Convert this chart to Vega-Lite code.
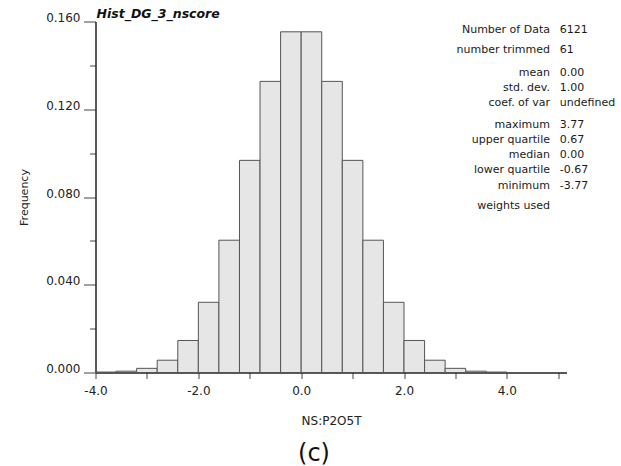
{
  "$schema": "https://vega.github.io/schema/vega-lite/v6.json",
  "width": 471,
  "height": 351,
  "autosize": {"type": "none"},
  "padding": {"left": 95.5, "top": 21.5, "right": 54.5, "bottom": 93.5},
  "background": "white",
  "config": {"view": {"stroke": null}, "font": "DejaVu Sans"},
  "title": {
    "text": "Hist_DG_3_nscore",
    "anchor": "start",
    "frame": "group",
    "font": "DejaVu Sans",
    "fontSize": 12.5,
    "fontStyle": "italic",
    "fontWeight": "bold",
    "color": "#111111",
    "baseline": "alphabetic",
    "offset": -19,
    "dx": 1
  },
  "datasets": {
    "bins": [
      {"bin_start": -4.0, "bin_end": -3.6, "frequency": 0.0002},
      {"bin_start": -3.6, "bin_end": -3.2, "frequency": 0.0006},
      {"bin_start": -3.2, "bin_end": -2.8, "frequency": 0.0019},
      {"bin_start": -2.8, "bin_end": -2.4, "frequency": 0.0056},
      {"bin_start": -2.4, "bin_end": -2.0, "frequency": 0.0146},
      {"bin_start": -2.0, "bin_end": -1.6, "frequency": 0.0320},
      {"bin_start": -1.6, "bin_end": -1.2, "frequency": 0.0603},
      {"bin_start": -1.2, "bin_end": -0.8, "frequency": 0.0967},
      {"bin_start": -0.8, "bin_end": -0.4, "frequency": 0.1327},
      {"bin_start": -0.4, "bin_end": 0.0, "frequency": 0.1553},
      {"bin_start": 0.0, "bin_end": 0.4, "frequency": 0.1553},
      {"bin_start": 0.4, "bin_end": 0.8, "frequency": 0.1327},
      {"bin_start": 0.8, "bin_end": 1.2, "frequency": 0.0967},
      {"bin_start": 1.2, "bin_end": 1.6, "frequency": 0.0603},
      {"bin_start": 1.6, "bin_end": 2.0, "frequency": 0.0320},
      {"bin_start": 2.0, "bin_end": 2.4, "frequency": 0.0146},
      {"bin_start": 2.4, "bin_end": 2.8, "frequency": 0.0056},
      {"bin_start": 2.8, "bin_end": 3.2, "frequency": 0.0019},
      {"bin_start": 3.2, "bin_end": 3.6, "frequency": 0.0006},
      {"bin_start": 3.6, "bin_end": 4.0, "frequency": 0.0002}
    ],
    "stats": [
      {"block": "counts", "names": ["Number of Data", "number trimmed"], "results": ["6121", "61"]},
      {"block": "moments", "names": ["mean", "std. dev.", "coef. of var"], "results": ["0.00", "1.00", "undefined"]},
      {"block": "quantiles", "names": ["maximum", "upper quartile", "median", "lower quartile", "minimum"], "results": ["3.77", "0.67", "0.00", "-0.67", "-3.77"]},
      {"block": "weights", "names": ["weights used"], "results": [""]}
    ],
    "caption": [{"label": "(c)"}]
  },
  "layer": [
    {
      "data": {"name": "bins"},
      "mark": {"type": "rect", "fill": "#e6e6e6", "stroke": "#555555", "strokeWidth": 1},
      "encoding": {
        "x": {
          "field": "bin_start",
          "type": "quantitative",
          "scale": {"domain": [-4, 5.16], "nice": false, "zero": false},
          "axis": {
            "values": [-4, -3.5, -3, -2.5, -2, -1.5, -1, -0.5, 0, 0.5, 1, 1.5, 2, 2.5, 3, 3.5, 4, 4.5, 5],
            "labelExpr": "abs(datum.value % 2) < 1e-9 ? (datum.value < 0 ? '-' : '') + format(abs(datum.value), '.1f') : ''",
            "grid": false,
            "tickSize": 6,
            "tickColor": "#444444",
            "tickWidth": 1,
            "domainColor": "#222222",
            "domainWidth": 1.5,
            "labelFont": "DejaVu Sans",
            "labelFontSize": 12,
            "labelColor": "#222222",
            "labelPadding": 6.5,
            "labelFlush": false,
            "labelOverlap": false,
            "labelBound": false,
            "title": "NS:P2O5T",
            "titleFont": "DejaVu Sans",
            "titleFontSize": 12,
            "titleFontWeight": "normal",
            "titleColor": "#222222",
            "titlePadding": 19
          }
        },
        "x2": {"field": "bin_end"},
        "y": {
          "field": "frequency",
          "type": "quantitative",
          "scale": {"domain": [0, 0.16], "nice": false, "zero": true},
          "axis": {
            "values": [0, 0.01, 0.02, 0.03, 0.04, 0.05, 0.06, 0.07, 0.08, 0.09, 0.1, 0.11, 0.12, 0.13, 0.14, 0.15, 0.16],
            "labelExpr": "abs(datum.value / 0.04 - round(datum.value / 0.04)) < 1e-6 ? format(datum.value, '.3f') : ''",
            "grid": false,
            "tickSize": {"condition": {"test": "abs(datum.value / 0.04 - round(datum.value / 0.04)) < 1e-6", "value": 12}, "value": 6},
            "tickColor": "#444444",
            "tickWidth": 1,
            "domainColor": "#222222",
            "domainWidth": 1.5,
            "labelFont": "DejaVu Sans",
            "labelFontSize": 12,
            "labelColor": "#222222",
            "labelBaseline": "alphabetic",
            "labelPadding": 3.5,
            "labelFlush": false,
            "labelOverlap": false,
            "labelBound": false,
            "title": "Frequency",
            "titleFont": "DejaVu Sans",
            "titleFontSize": 11,
            "titleFontWeight": "normal",
            "titleColor": "#222222",
            "titlePadding": 16
          }
        },
        "y2": {"datum": 0}
      }
    },
    {
      "data": {"name": "stats"},
      "transform": [{"filter": "datum.block == 'counts'"}],
      "mark": {"type": "text", "align": "right", "baseline": "middle", "lineHeight": 20, "fontSize": 11, "font": "DejaVu Sans", "color": "#1a1a1a"},
      "encoding": {"x": {"datum": 4.839, "type": "quantitative"}, "y": {"datum": 0.1559, "type": "quantitative"}, "text": {"field": "names"}}
    },
    {
      "data": {"name": "stats"},
      "transform": [{"filter": "datum.block == 'counts'"}],
      "mark": {"type": "text", "align": "left", "baseline": "middle", "lineHeight": 20, "fontSize": 11, "font": "DejaVu Sans", "color": "#1a1a1a"},
      "encoding": {"x": {"datum": 5.03, "type": "quantitative"}, "y": {"datum": 0.1559, "type": "quantitative"}, "text": {"field": "results"}}
    },
    {
      "data": {"name": "stats"},
      "transform": [{"filter": "datum.block == 'moments'"}],
      "mark": {"type": "text", "align": "right", "baseline": "middle", "lineHeight": 15.35, "fontSize": 11, "font": "DejaVu Sans", "color": "#1a1a1a"},
      "encoding": {"x": {"datum": 4.839, "type": "quantitative"}, "y": {"datum": 0.1367, "type": "quantitative"}, "text": {"field": "names"}}
    },
    {
      "data": {"name": "stats"},
      "transform": [{"filter": "datum.block == 'moments'"}],
      "mark": {"type": "text", "align": "left", "baseline": "middle", "lineHeight": 15.35, "fontSize": 11, "font": "DejaVu Sans", "color": "#1a1a1a"},
      "encoding": {"x": {"datum": 5.03, "type": "quantitative"}, "y": {"datum": 0.1367, "type": "quantitative"}, "text": {"field": "results"}}
    },
    {
      "data": {"name": "stats"},
      "transform": [{"filter": "datum.block == 'quantiles'"}],
      "mark": {"type": "text", "align": "right", "baseline": "middle", "lineHeight": 15.2, "fontSize": 11, "font": "DejaVu Sans", "color": "#1a1a1a"},
      "encoding": {"x": {"datum": 4.839, "type": "quantitative"}, "y": {"datum": 0.1129, "type": "quantitative"}, "text": {"field": "names"}}
    },
    {
      "data": {"name": "stats"},
      "transform": [{"filter": "datum.block == 'quantiles'"}],
      "mark": {"type": "text", "align": "left", "baseline": "middle", "lineHeight": 15.2, "fontSize": 11, "font": "DejaVu Sans", "color": "#1a1a1a"},
      "encoding": {"x": {"datum": 5.03, "type": "quantitative"}, "y": {"datum": 0.1129, "type": "quantitative"}, "text": {"field": "results"}}
    },
    {
      "data": {"name": "stats"},
      "transform": [{"filter": "datum.block == 'weights'"}],
      "mark": {"type": "text", "align": "right", "baseline": "middle", "fontSize": 11, "font": "DejaVu Sans", "color": "#1a1a1a"},
      "encoding": {"x": {"datum": 4.839, "type": "quantitative"}, "y": {"datum": 0.0758, "type": "quantitative"}, "text": {"field": "names"}}
    },
    {
      "data": {"name": "caption"},
      "mark": {"type": "text", "align": "center", "baseline": "middle", "fontSize": 24, "font": "DejaVu Sans", "color": "#111111"},
      "encoding": {"x": {"datum": 0.249, "type": "quantitative"}, "y": {"datum": -0.0372, "type": "quantitative"}, "text": {"field": "label"}}
    }
  ]
}
